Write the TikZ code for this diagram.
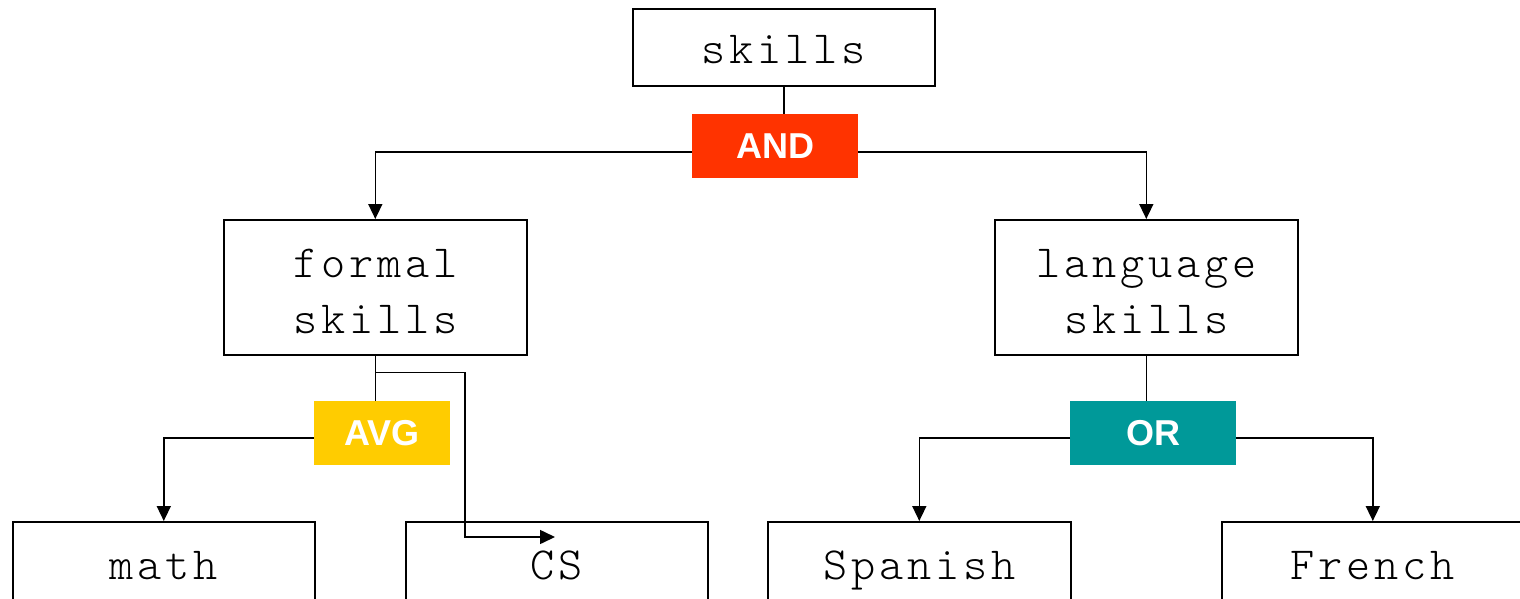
\documentclass[tikz,border=0pt]{standalone}
\usepackage{fontspec}
\setmainfont{Liberation Sans}
\newfontfamily\monof{lmmonolt10-regular.otf}[LetterSpace=8.4]
\usetikzlibrary{arrows.meta,calc}
\definecolor{andred}{HTML}{FF3300}
\definecolor{avgyellow}{HTML}{FFCC00}
\definecolor{orteal}{HTML}{009999}
\begin{document}
\begin{tikzpicture}[x=1pt,y=-1pt,
  box/.style={draw=black, line width=1.6pt, fill=white, anchor=north west, inner sep=0pt, minimum width=302pt},
  lbl/.style={font=\monof\fontsize{46}{56}\selectfont, anchor=base, inner sep=0pt},
  gate/.style={anchor=north west, inner sep=0pt, minimum height=64pt, font=\bfseries\fontsize{36}{40}\selectfont, text=white},
  conn/.style={line width=1.6pt},
  arr/.style={conn, -{Triangle[length=15pt,width=14pt]}}]
\useasboundingbox (0,0) rectangle (1520,599);
\fill[white] (0,0) rectangle (1520,599);
% boxes
\node[box, minimum height=77pt] (skills) at (632,8) {};
\node[box, minimum width=303pt, minimum height=135pt] (formal) at (223,219) {};
\node[box, minimum width=303pt, minimum height=135pt] (language) at (994,219) {};
\node[box, minimum height=110pt] (math) at (12,521) {};
\node[box, minimum height=110pt] (cs) at (405,521) {};
\node[box, minimum width=303pt, minimum height=110pt] (spanish) at (767,521) {};
\node[box, minimum height=110pt] (french) at (1221,521) {};
% texts
\node[lbl] (skillsT) at ($(skills.north)+(0,56)$) {skills};
\node[lbl] (formalA) at ($(formal.north)+(0,58)$) {formal};
\node[lbl] (formalB) at ($(formal.north)+(0,114)$) {skills};
\node[lbl] (languageA) at ($(language.north)+(0,58)$) {language};
\node[lbl] (languageB) at ($(language.north)+(0,114)$) {skills};
\node[lbl] (mathT) at ($(math.north)+(0,58)$) {math};
\node[lbl] (csT) at ($(cs.north)+(0,58)$) {CS};
\node[lbl] (spanishT) at ($(spanish.north)+(0,58)$) {Spanish};
\node[lbl] (frenchT) at ($(french.north)+(0,58)$) {French};
% gates
\node[gate, fill=andred, minimum width=166pt] (AND) at (692,114) {AND};
\node[gate, fill=avgyellow, minimum width=136pt] (AVG) at (314,401) {AVG};
\node[gate, fill=orteal, minimum width=166pt] (OR) at (1070,401) {OR};
% connectors
\draw[conn] (skills.south) -- (skills.south |- AND.north);
\draw[arr] ([yshift=-6pt]AND.west) -| (formal.north);
\draw[arr] ([yshift=-6pt]AND.east) -| (language.north);
\draw[conn] (formal.south) -- (formal.south |- AVG.north);
\coordinate (csbend) at (465,537);
\coordinate (csend) at (555,537);
\draw[arr] (formal.south) -- ++(0,17) -| (csbend) -- (csend);
\draw[arr] ([yshift=-5pt]AVG.west) -| (math.north);
\draw[conn] (language.south) -- (language.south |- OR.north);
\draw[arr] ([yshift=-5pt]OR.west) -| (spanish.north);
\draw[arr] ([yshift=-5pt]OR.east) -| (french.north);
\end{tikzpicture}
\end{document}
